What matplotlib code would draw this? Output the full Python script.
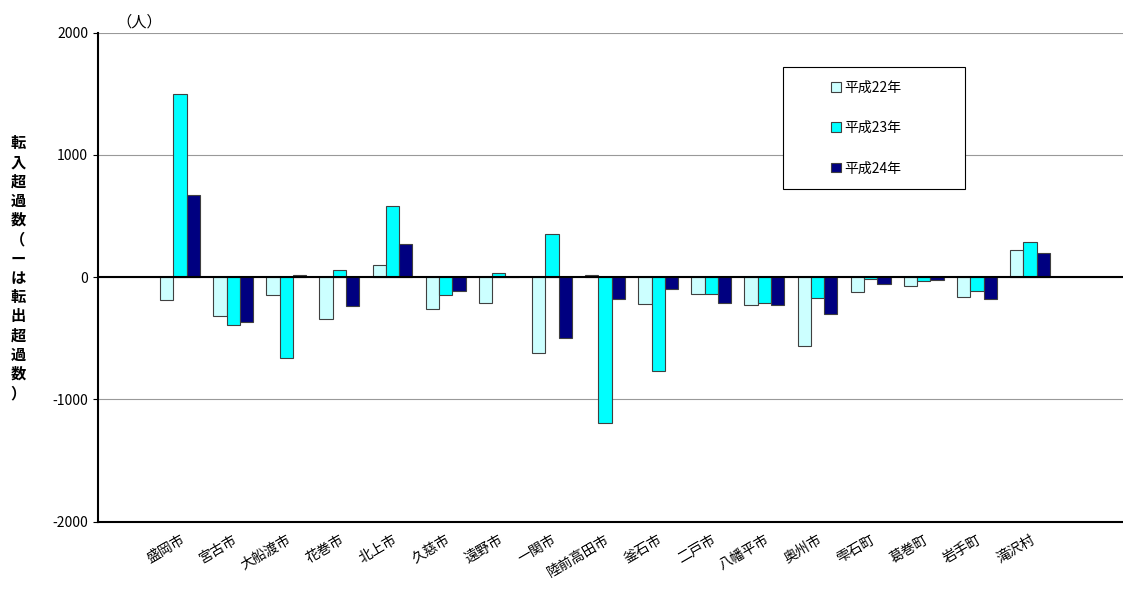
import numpy as np
import matplotlib.pyplot as plt
from matplotlib.patches import Rectangle

plt.rcParams['font.family'] = ['Noto Sans CJK JP', 'DejaVu Sans']
plt.rcParams['axes.unicode_minus'] = False

cities = ['盛岡市', '宮古市', '大船渡市', '花巻市', '北上市', '久慈市', '遠野市', '一関市',
          '陸前高田市', '釜石市', '二戸市', '八幡平市', '奥州市', '雫石町', '葛巻町', '岩手町', '滝沢村']
h22 = [-190, -320, -150, -340, 100, -260, -210, -620, 15, -220, -140, -230, -560, -120, -70, -160, 220]
h23 = [1500, -390, -660, 60, 580, -150, 35, 355, -1190, -770, -140, -210, -170, -15, -30, -110, 285]
h24 = [670, -365, 15, -240, 270, -110, 5, -500, -180, -95, -215, -230, -300, -60, -25, -175, 200]

fig = plt.figure(figsize=(11.23, 5.96), dpi=100)
ax = fig.add_axes([0.087, 0.125, 0.913, 0.82])
x = np.arange(len(cities))
w = 0.25
ec = '#404040'
ax.bar(x - w, h22, w, color='#ccffff', edgecolor=ec, linewidth=0.8, label='平成22年')
ax.bar(x, h23, w, color='#00ffff', edgecolor=ec, linewidth=0.8, label='平成23年')
ax.bar(x + w, h24, w, color='#000080', edgecolor=ec, linewidth=0.8, label='平成24年')
ax.axhline(0, color='black', lw=1.5)
ax.set_ylim(-2000, 2000)
ax.set_yticks([-2000, -1000, 0, 1000, 2000])
ax.yaxis.grid(True, color='#999999', lw=0.8)
ax.set_axisbelow(True)
ax.set_xlim(-1.55, 17.75)
ax.set_xticks(x)
ax.set_xticklabels(cities, rotation=30, ha='right', rotation_mode='anchor', fontsize=10)
ax.tick_params(axis='x', length=0, pad=8)
ax.tick_params(axis='y', labelsize=10)
for s in ['top', 'right']:
    ax.spines[s].set_visible(False)
ax.spines['left'].set_linewidth(1.5)
ax.spines['bottom'].set_linewidth(1.5)
ax.text(0.018, 1.005, '（人）', transform=ax.transAxes, fontsize=11, ha='left', va='bottom')
fig.text(0.016, 0.55, '転\n入\n超\n過\n数\n（\nー\nは\n転\n出\n超\n過\n数\n）', ha='center', va='center',
         fontsize=11, fontweight='bold', linespacing=1.25)
# legend box
ax.add_patch(Rectangle((0.668, 0.68), 0.178, 0.25, transform=ax.transAxes, fill=True,
                       facecolor='white', edgecolor='black', lw=0.8, zorder=4))
leg = ax.legend(loc='center left', bbox_to_anchor=(0.715, 0.805), fontsize=10, frameon=False,
                labelspacing=1.9, handlelength=0.7, handleheight=0.7, handletextpad=0.3,
                borderpad=0, borderaxespad=0)
leg.set_zorder(5)
fig.savefig('out.png')
